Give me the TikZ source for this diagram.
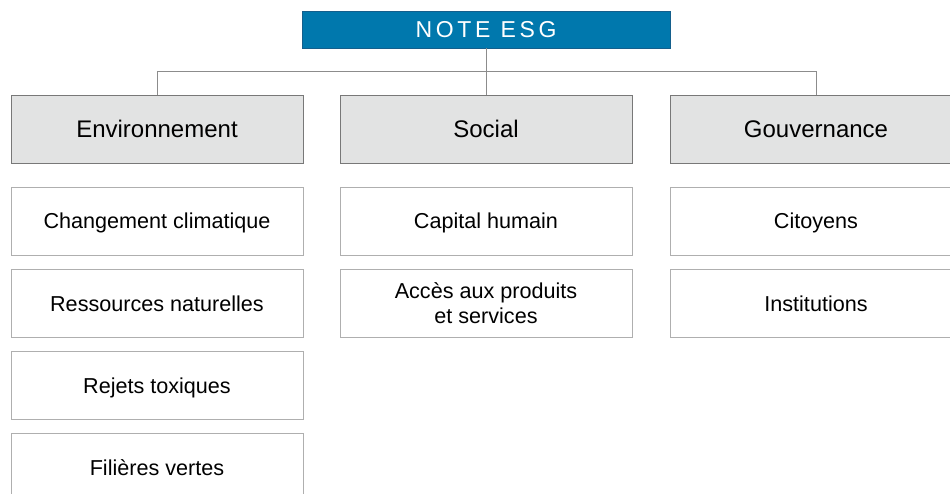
\documentclass[tikz,border=0pt]{standalone}
\usepackage{fontspec}
\setmainfont{Liberation Sans}
\usetikzlibrary{positioning}

\definecolor{noteblue}{RGB}{0,120,173}
\definecolor{noteedge}{RGB}{20,95,140}
\definecolor{catfill}{RGB}{226,227,227}
\definecolor{catedge}{RGB}{120,120,120}
\definecolor{subedge}{RGB}{175,175,175}
\definecolor{linkgray}{RGB}{140,140,140}

\tikzset{
  notebox/.style={draw=noteedge,fill=noteblue,text=white,minimum width=368pt,minimum height=37pt,
    inner sep=0pt,font=\fontsize{23}{27}\selectfont\addfontfeature{LetterSpace=16}},
  catbox/.style={draw=catedge,fill=catfill,minimum width=292pt,minimum height=68pt,inner sep=0pt,
    text height=17pt,text depth=0pt,font=\fontsize{24}{28}\selectfont},
  subbox/.style={draw=subedge,fill=white,minimum width=292pt,minimum height=68pt,inner sep=0pt,
    align=center,font=\fontsize{21.6}{25}\selectfont},
  oneline/.style={subbox,text height=16pt,text depth=0pt},
  link/.style={draw=linkgray,line width=1pt}
}

\begin{document}
\begin{tikzpicture}[x=1pt,y=-1pt]
 \useasboundingbox (0,0) rectangle (950,494);
 \node[notebox] (note) at (486,29.5) {NOTE ESG};
 % piliers
 \node[catbox] (env) at (157,129) {Environnement};
 \node[catbox] (soc) at (486,129) {Social};
 \node[catbox] (gov) at (816,129) {Gouvernance};
 % liens
 \coordinate (hub) at (486,72);
 \draw[link] (note.south) -- (soc.north);
 \draw[link] (env.north) -- (env.north |- hub) -- (gov.north |- hub) -- (gov.north);
 % criteres
 \node[oneline] (env1) at (157,221) {Changement climatique};
 \node[oneline] (env2) at (157,303) {Ressources naturelles};
 \node[oneline] (env3) at (157,385) {Rejets toxiques};
 \node[oneline] (env4) at (157,467) {Filières vertes};
 \node[oneline] (soc1) at (486,221) {Capital humain};
 \node[subbox] (soc2) at (486,303) {Accès aux produits\\et services};
 \node[oneline] (gov1) at (816,221) {Citoyens};
 \node[oneline] (gov2) at (816,303) {Institutions};
\end{tikzpicture}
\end{document}
